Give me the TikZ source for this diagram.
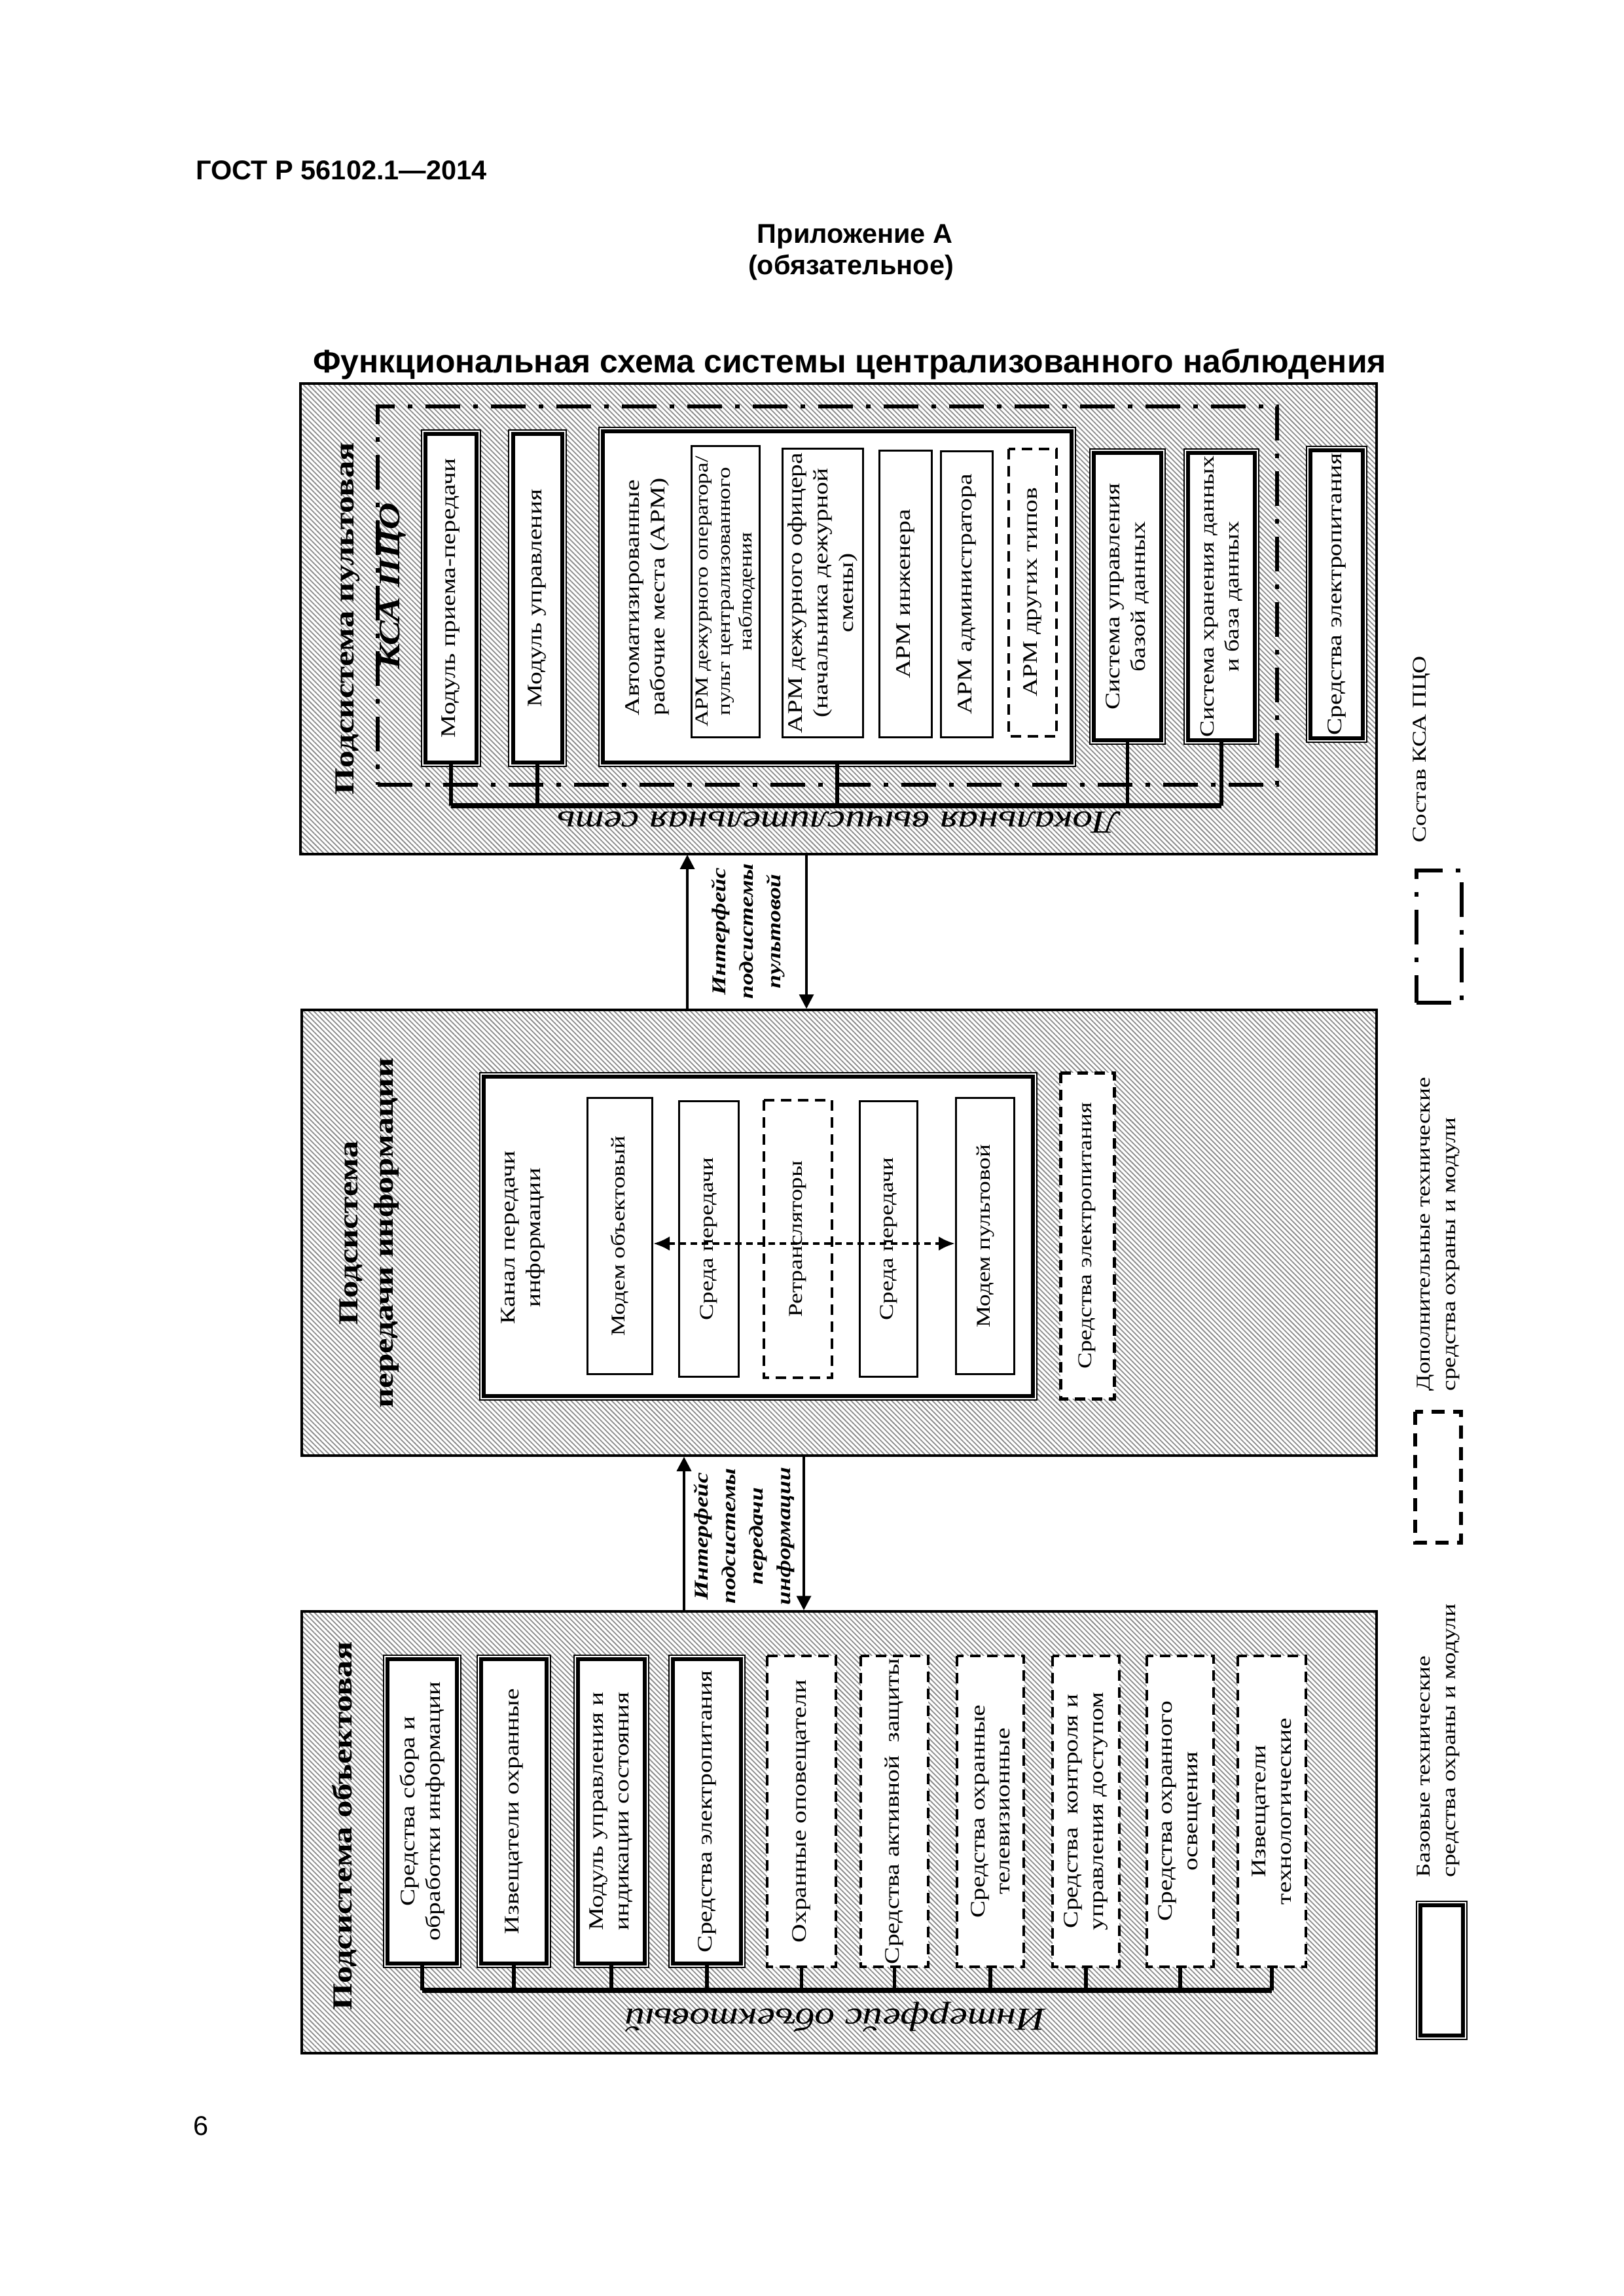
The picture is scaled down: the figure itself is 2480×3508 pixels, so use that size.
\documentclass[tikz,border=0pt]{standalone}
\usepackage{fontspec}
\setmainfont{Liberation Serif}[FakeStretch=1.25]
\newfontfamily\headfont{Liberation Sans}
\usepackage{tikz}
\usetikzlibrary{arrows.meta, patterns.meta}

\newcommand{\boxfont}{\fontsize{9}{11}\selectfont}
\newcommand{\smallboxfont}{\fontsize{8}{9.5}\selectfont}
\newcommand{\chanfont}{\fontsize{8.5}{10.8}\selectfont}
\newcommand{\legfont}{\fontsize{8.5}{11}\selectfont}
\newcommand{\subfont}{\fontsize{12}{15.3}\selectfont\bfseries}
\newcommand{\kcafont}{\fontsize{13}{15}\selectfont\bfseries\itshape}
\newcommand{\ifacefont}{\fontsize{8.5}{12}\selectfont\bfseries\itshape}
\newcommand{\busfont}{\fontsize{14}{17}\selectfont\itshape}

\tikzset{
    head/.style={font=\headfont\bfseries\fontsize{11.8}{14}\selectfont, inner sep=0pt},
    headtitle/.style={font=\headfont\bfseries\fontsize{14.2}{17}\selectfont, inner sep=0pt},
    panel/.style={rectangle, draw, line width=0.35mm, preaction={fill=white},
                  pattern={Lines[angle=-45, distance=0.55mm, line width=0.18mm]},
                  pattern color=black!45},
    subtitle/.style={rotate=90, align=center, font=\subfont, inner sep=0pt},
    basebox/.style={rectangle, rotate=90, draw, fill=white, line width=0.6mm,
                    preaction={draw, line width=1.46mm},
                    preaction={draw=white, line width=1.06mm},
                    align=center, inner sep=0.4mm, font=\boxfont},
    thinbox/.style={rectangle, rotate=90, draw, fill=white, line width=0.3mm,
                    align=center, inner sep=0.4mm, font=\boxfont},
    addbox/.style={rectangle, rotate=90, draw, fill=white, line width=0.4mm,
                   dash pattern=on 1.6mm off 1mm, align=center, inner sep=0.4mm,
                   font=\boxfont},
    kcaframe/.style={rectangle, draw, line width=0.6mm,
                     dash pattern=on 5.3mm off 2mm on 0.7mm off 2mm},
    bus/.style={line width=0.8mm},
    drop/.style={line width=0.55mm},
    buslabel/.style={rotate=180, font=\busfont, inner sep=0pt},
    iface/.style={rotate=90, align=center, font=\ifacefont, inner sep=0pt},
    arrow/.style={line width=0.35mm, -{Triangle[length=2.2mm, width=2.2mm]}},
    chanarrow/.style={line width=0.4mm, dash pattern=on 1mm off 0.7mm,
                      {Latex[length=2.5mm, width=2.2mm]}-{Latex[length=2.5mm, width=2.2mm]}},
    legtext/.style={rotate=90, anchor=west, align=left, inner sep=0pt, font=\legfont}
}

\begin{document}
\begin{tikzpicture}[x=0.1mm, y=-0.1mm]
    \fill[white] (0,0) rectangle (2480,3508);
    \useasboundingbox (0,0) rectangle (2480,3508);

    % Page header
    \node[head, anchor=base west] (gost) at (299,275) {ГОСТ Р 56102.1—2014};
    \node[head, anchor=base] (annex) at (1306,372) {Приложение А};
    \node[head, anchor=base] (annexkind) at (1300,420) {(обязательное)};
    \node[headtitle, anchor=base] (title) at (1298,570)
        {Функциональная схема системы централизованного наблюдения};

    % Подсистема пультовая
    \node[panel, minimum width=164.4mm, minimum height=71.9mm] (pult) at (1281,945.5) {};
    \node[kcaframe, minimum width=137.4mm, minimum height=57.8mm] (kca) at (1264,910) {};
    \node[subtitle] (pulttitle) at (531,945) {Подсистема пультовая};
    \node[subtitle, font=\kcafont] (kcatitle) at (600,895) {КСА ПЦО};

    \node[basebox, minimum width=50.2mm, minimum height=7.8mm] (mpp) at (689,914)
        {Модуль приема-передачи};
    \node[basebox, minimum width=50.2mm, minimum height=7.5mm] (mupr) at (821,914)
        {Модуль управления};

    % АРМ
    \node[basebox, minimum width=50.6mm, minimum height=71.6mm] (arm) at (1279,912) {};
    \node[rotate=90, align=left, font=\boxfont] (armtitle) at (989,912)
        {Автоматизированные\\рабочие места (АРМ)};
    \node[thinbox, font=\smallboxfont, minimum width=44.5mm, minimum height=10.4mm] (armop)
        at (1108.5,904) {АРМ дежурного оператора/\\пульт централизованного\\наблюдения};
    \node[thinbox, minimum width=44.1mm, minimum height=12.3mm] (armoff) at (1257,906)
        {АРМ дежурного офицера\\(начальника дежурной\\смены)};
    \node[thinbox, minimum width=43.8mm, minimum height=8mm] (armeng) at (1383.5,907.5)
        {АРМ инженера};
    \node[thinbox, minimum width=43.7mm, minimum height=7.9mm] (armadm) at (1477,908)
        {АРМ администратора};
    \node[addbox, minimum width=43.9mm, minimum height=7.3mm] (armoth) at (1577,905)
        {АРМ других типов};

    \node[basebox, minimum width=43.9mm, minimum height=10.3mm] (subd) at (1722.5,911.5)
        {Система управления\\базой данных};
    \node[basebox, font=\fontsize{8.7}{10.8}\selectfont, minimum width=43.9mm,
          minimum height=10.2mm] (shd) at (1866,911.5)
        {Система хранения данных\\и база данных};
    \node[basebox, minimum width=43.6mm, minimum height=8mm] (pitpult) at (2042,908)
        {Средства электропитания};

    % Локальная вычислительная сеть
    \coordinate (lvs) at (0,1231);
    \draw[drop] (mpp.west) -- (mpp.west |- lvs);
    \draw[drop] (mupr.west) -- (mupr.west |- lvs);
    \draw[drop] (arm.west) -- (arm.west |- lvs);
    \draw[drop] (subd.west) -- (subd.west |- lvs);
    \draw[drop] (shd.west) -- (shd.west |- lvs);
    \draw[bus] (mpp.west |- lvs) -- (shd.west |- lvs);
    \node[buslabel] (lvslabel) at (1281,1256) {Локальная вычислительная сеть};

    % Подсистема передачи информации
    \node[panel, minimum width=164.2mm, minimum height=68.1mm] (pered) at (1282,1883.5) {};
    \node[subtitle] (peredtitle) at (564,1884) {Подсистема\\передачи информации};

    \node[basebox, minimum width=48.8mm, minimum height=83.9mm] (kanal) at (1158.5,1889) {};
    \node[rotate=90, align=center, font=\boxfont] (kanaltext) at (799,1891)
        {Канал передачи\\информации};
    \node[thinbox, font=\chanfont, minimum width=42.2mm, minimum height=9.9mm] (mob)
        at (947,1888.5) {Модем объектовый};
    \node[thinbox, font=\chanfont, minimum width=42.1mm, minimum height=9.1mm] (sreda1)
        at (1083,1893) {Среда передачи};
    \node[addbox, font=\chanfont, minimum width=42.4mm, minimum height=10.4mm] (retr)
        at (1219,1893) {Ретрансляторы};
    \node[thinbox, font=\chanfont, minimum width=42.1mm, minimum height=8.8mm] (sreda2)
        at (1357.5,1893) {Среда передачи};
    \node[thinbox, font=\chanfont, minimum width=42.2mm, minimum height=8.9mm] (mpu)
        at (1505,1888.5) {Модем пультовой};
    \node[addbox, line width=0.5mm, font=\chanfont, minimum width=49.8mm, minimum height=8.2mm]
        (pitpered) at (1661,1888) {Средства электропитания};

    \coordinate (chan) at (0,1900);
    \draw[chanarrow] (mob.south |- chan) -- (mpu.north |- chan);

    % Интерфейс подсистемы пультовой
    \coordinate (upA) at (1050,0);
    \coordinate (dnA) at (1232,0);
    \draw[arrow] (pered.north -| upA) -- (pult.south -| upA);
    \draw[arrow] (pult.south -| dnA) -- (pered.north -| dnA);
    \node[iface] (ifacepult) at (1143,1423) {Интерфейс\\подсистемы\\пультовой};

    % Подсистема объектовая
    \node[panel, minimum width=164.2mm, minimum height=67.5mm] (obj) at (1282,2799.5) {};
    \node[subtitle] (objtitle) at (526,2790) {Подсистема объектовая};

    \node[basebox, minimum width=46.5mm, minimum height=10.6mm] (sbor) at (645,2767.5)
        {Средства сбора и\\обработки информации};
    \node[basebox, minimum width=46.5mm, minimum height=10mm] (izv) at (785,2767.5)
        {Извещатели охранные};
    \node[basebox, minimum width=46.5mm, minimum height=10.2mm] (mui) at (934,2767.5)
        {Модуль управления и\\индикации состояния};
    \node[basebox, minimum width=46.5mm, minimum height=10.4mm] (pitobj) at (1080,2767.5)
        {Средства электропитания};
    \node[addbox, minimum width=47.5mm, minimum height=10.5mm] (opov) at (1224.5,2767.5)
        {Охранные оповещатели};
    \node[addbox, minimum width=47.5mm, minimum height=10.3mm] (akt) at (1366.5,2767.5)
        {Средства активной \ защиты};
    \node[addbox, minimum width=47.5mm, minimum height=10.2mm] (tv) at (1513,2767.5)
        {Средства охранные\\телевизионные};
    \node[addbox, minimum width=47.5mm, minimum height=10.2mm] (skud) at (1659,2767.5)
        {Средства \ контроля и\\управления доступом};
    \node[addbox, minimum width=47.5mm, minimum height=10.2mm] (osv) at (1803,2767.5)
        {Средства охранного\\освещения};
    \node[addbox, minimum width=47.5mm, minimum height=10.4mm] (tech) at (1943,2767.5)
        {Извещатели\\технологические};

    % Интерфейс объектовый
    \coordinate (iob) at (0,3041);
    \draw[drop] (sbor.west) -- (sbor.west |- iob);
    \draw[drop] (izv.west) -- (izv.west |- iob);
    \draw[drop] (mui.west) -- (mui.west |- iob);
    \draw[drop] (pitobj.west) -- (pitobj.west |- iob);
    \draw[drop] (opov.west) -- (opov.west |- iob);
    \draw[drop] (akt.west) -- (akt.west |- iob);
    \draw[drop] (tv.west) -- (tv.west |- iob);
    \draw[drop] (skud.west) -- (skud.west |- iob);
    \draw[drop] (osv.west) -- (osv.west |- iob);
    \draw[drop] (tech.west) -- (tech.west |- iob);
    \draw[bus] (sbor.west |- iob) -- (tech.west |- iob);
    \node[buslabel] (ioblabel) at (1276,3082) {Интерфейс объектовый};

    % Интерфейс подсистемы передачи информации
    \coordinate (upB) at (1045,0);
    \coordinate (dnB) at (1228,0);
    \draw[arrow] (obj.north -| upB) -- (pered.south -| upB);
    \draw[arrow] (pered.south -| dnB) -- (obj.north -| dnB);
    \node[iface] (ifacepered) at (1137,2347) {Интерфейс\\подсистемы\\передачи\\информации};

    % Legend
    \node[legtext] (lgkcatext) at (2172,1288) {Состав КСА ПЦО};
    \node[kcaframe, minimum width=6.9mm, minimum height=20.2mm] (lgkca) at (2198.5,1431) {};
    \node[legtext] (lgaddtext) at (2197.5,2126)
        {Дополнительные технические\\средства охраны и модули};
    \node[addbox, line width=0.6mm, dash pattern=on 2mm off 1.3mm,
          minimum width=20mm, minimum height=7mm] (lgadd) at (2197,2257) {};
    \node[legtext] (lgbasetext) at (2197.5,2869)
        {Базовые технические\\средства охраны и модули};
    \node[basebox, minimum width=19.9mm, minimum height=6.5mm] (lgbase) at (2202.5,3010.5) {};

    % Page number
    \node[inner sep=0pt, anchor=base west, font=\headfont\fontsize{11.8}{14}\selectfont]
        (pagenum) at (295,3262) {6};
\end{tikzpicture}
\end{document}
